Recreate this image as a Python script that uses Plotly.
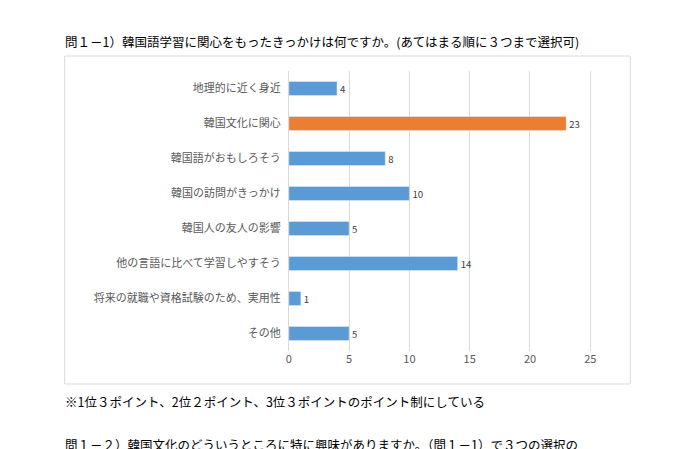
import plotly.graph_objects as go

categories = ["地理的に近く身近", "韓国文化に関心", "韓国語がおもしろそう", "韓国の訪問がきっかけ",
              "韓国人の友人の影響", "他の言語に比べて学習しやすそう", "将来の就職や資格試験のため、実用性", "その他"]
values = [4, 23, 8, 10, 5, 14, 1, 5]
colors = ["#5B9BD5", "#ED7D31", "#5B9BD5", "#5B9BD5", "#5B9BD5", "#5B9BD5", "#5B9BD5", "#5B9BD5"]
xticks = [0, 5, 10, 15, 20, 25]

W, H = 689, 449
DX, DY = -10, -7
font = "Noto Sans CJK JP"

def px(x): return (x + DX) / W
def py(y): return 1 - (y + DY) / H

fig = go.Figure(go.Bar(
    y=categories, x=values, orientation="h", marker_color=colors, width=0.4,
    text=[str(v) for v in values], textposition="outside",
    textfont=dict(size=11, color="#404040"), cliponaxis=False))

fig.update_layout(
    width=W, height=H, margin=dict(l=0, r=0, t=0, b=0),
    paper_bgcolor="white", plot_bgcolor="white", showlegend=False,
    font=dict(family=font, size=11, color="#595959"),
    xaxis=dict(domain=[px(289), px(610)], range=[0, 26.5], tickvals=xticks,
               showgrid=True, gridcolor="#D9D9D9", zeroline=False, showline=False,
               ticks="", tickfont=dict(size=11, color="#595959")),
    yaxis=dict(domain=[py(350), py(70)], autorange="reversed", showgrid=False,
               showline=True, linecolor="#D9D9D9", ticks="", ticksuffix="  ",
               tickfont=dict(size=11, color="#595959")),
    shapes=[dict(type="rect", xref="paper", yref="paper",
                 x0=px(64), x1=px(632), y0=py(383), y1=py(55),
                 line=dict(color="#D9D9D9", width=1))],
    annotations=[
        dict(text="問１－1）韓国語学習に関心をもったきっかけは何ですか。(あてはまる順に３つまで選択可)",
             x=px(62), y=py(40), xref="paper", yref="paper", xanchor="left", yanchor="middle",
             showarrow=False, font=dict(size=12.5, color="black")),
        dict(text="※1位３ポイント、2位２ポイント、3位３ポイントのポイント制にしている",
             x=px(62), y=py(400), xref="paper", yref="paper", xanchor="left", yanchor="middle",
             showarrow=False, font=dict(size=12.5, color="black")),
        dict(text="問１－２）韓国文化のどういうところに特に興味がありますか。（問１－1）で３つの選択の",
             x=px(62), y=py(443), xref="paper", yref="paper", xanchor="left", yanchor="middle",
             showarrow=False, font=dict(size=12.5, color="black")),
    ])

fig.write_html("out.html")
